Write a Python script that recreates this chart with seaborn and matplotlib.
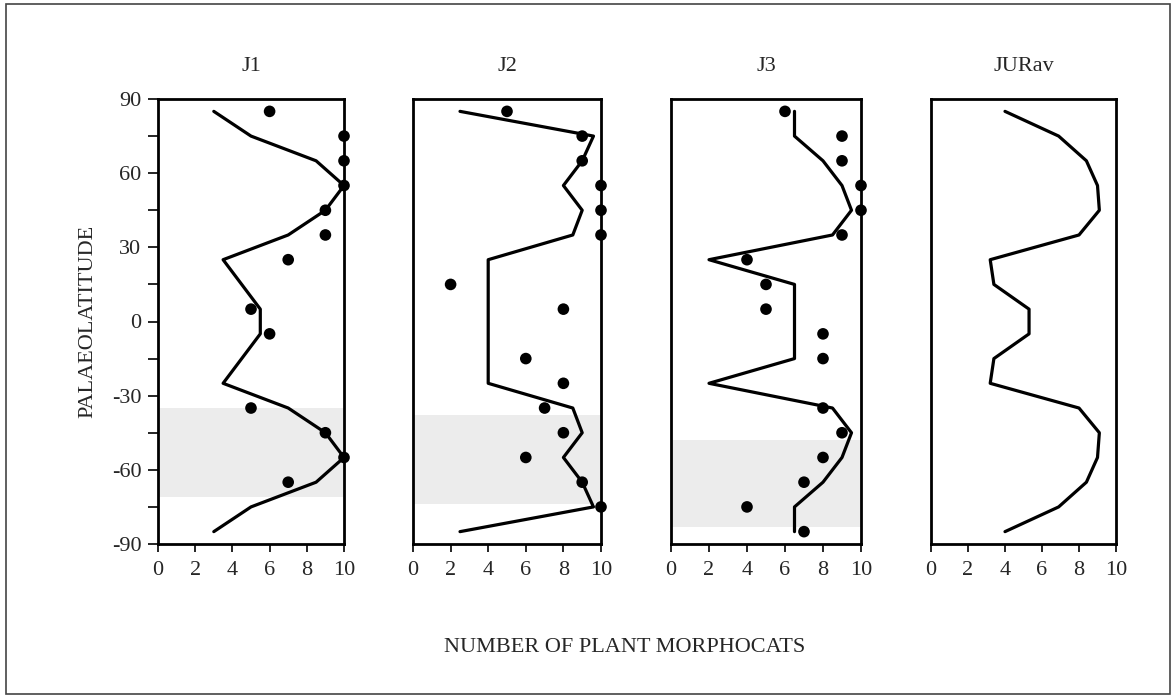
import numpy as np
import pandas as pd
import seaborn as sns
import matplotlib.pyplot as plt
from matplotlib.patches import Rectangle

sns.set_theme(style="white")
plt.rcParams['font.family'] = ['Liberation Serif', 'DejaVu Serif']
plt.rcParams['axes.unicode_minus'] = False

# latitude bins used by the lines
lats = [85, 75, 65, 55, 45, 35, 25, 15, 5, -5, -15, -25, -35, -45, -55, -65, -75, -85]

# line values (number of morphocats) per latitude bin
j1_line = [3, 5, 8.5, 10, 9, 7, 3.5, 4.5, 5.5, 5.5, 4.5, 3.5, 7, 9, 10, 8.5, 5, 3]
j2_line = [2.5, 9.6, 9, 8, 9, 8.5, 4, 4, 4, 4, 4, 4, 8.5, 9, 8, 9, 9.6, 2.5]
j3_line = [6.5, 6.5, 8, 9, 9.5, 8.5, 2, 6.5, 6.5, 6.5, 6.5, 2, 8.5, 9.5, 9, 8, 6.5, 6.5]
jur_line = [4, 6.9, 8.4, 9, 9.1, 8, 3.2, 3.4, 5.3, 5.3, 3.4, 3.2, 8, 9.1, 9, 8.4, 6.9, 4]

# observed points
j1_dot_x = [6, 10, 10, 10, 9, 9, 7, 5, 6, 5, 9, 10, 7]
j1_dot_lat = [85, 75, 65, 55, 45, 35, 25, 5, -5, -35, -45, -55, -65]
j2_dot_x = [5, 9, 9, 10, 10, 10, 2, 8, 6, 8, 7, 8, 6, 9, 10]
j2_dot_lat = [85, 75, 65, 55, 45, 35, 15, 5, -15, -25, -35, -45, -55, -65, -75]
j3_dot_x = [6, 9, 9, 10, 10, 9, 4, 5, 5, 8, 8, 8, 9, 8, 7, 4, 7]
j3_dot_lat = [85, 75, 65, 55, 45, 35, 25, 15, 5, -5, -15, -35, -45, -55, -65, -75, -85]

# shaded latitude bands (bottom, top)
j1_band = (-71, -35)
j2_band = (-74, -38)
j3_band = (-83, -48)

panels = [
    ("J1", j1_line, j1_dot_x, j1_dot_lat, j1_band),
    ("J2", j2_line, j2_dot_x, j2_dot_lat, j2_band),
    ("J3", j3_line, j3_dot_x, j3_dot_lat, j3_band),
    ("JURav", jur_line, None, None, None),
]

W, H = 1175, 698
fig = plt.figure(figsize=(W / 100, H / 100), dpi=100)

# axes boxes in pixels: left, right
boxes = [(158, 344), (413, 601), (671, 861), (931, 1116)]
top, bottom = 99, 544

for i, (name, line, dx, dlat, band) in enumerate(panels):
    l, r = boxes[i]
    ax = fig.add_axes([l / W, 1 - bottom / H, (r - l) / W, (bottom - top) / H])

    if band is not None:
        ax.axhspan(band[0], band[1], color="#ececec", lw=0, zorder=0)

    sns.lineplot(x=line, y=lats, sort=False, estimator=None, color="black",
                 lw=2.3, ax=ax, zorder=3)
    if dx is not None:
        sns.scatterplot(x=dx, y=dlat, color="black", s=70, edgecolor="none",
                        ax=ax, zorder=4, clip_on=False)

    ax.set_xlim(0, 10)
    ax.set_ylim(-90, 90)
    ax.set_xticks([0, 2, 4, 6, 8, 10])
    ax.tick_params(axis="x", direction="out", length=6, width=1.2, color="black",
                   labelsize=16, pad=6, bottom=True)
    if i == 0:
        ax.set_yticks([-90, -60, -30, 0, 30, 60, 90])
        ax.set_yticks(np.arange(-75, 90, 30), minor=True)
        ax.tick_params(axis="y", which="both", direction="out", length=7, width=1.2,
                       color="black", labelsize=16, pad=5, left=True)
        ax.set_ylabel("PALAEOLATITUDE", fontsize=16, labelpad=10)
    else:
        ax.set_yticks([])
    ax.set_title(name, fontsize=16, pad=20)
    for s in ax.spines.values():
        s.set_color("black")
        s.set_linewidth(2)
    ax.set_facecolor("white")

fig.text(625 / W, 1 - 648 / H, "NUMBER OF PLANT MORPHOCATS", ha="center",
         va="center", fontsize=16)

fig.patches.append(Rectangle((6 / W, 4 / H), 1164 / W, 690 / H, transform=fig.transFigure,
                             fill=False, edgecolor="#444444", lw=1.2))

fig.savefig("out.png", dpi=100)
